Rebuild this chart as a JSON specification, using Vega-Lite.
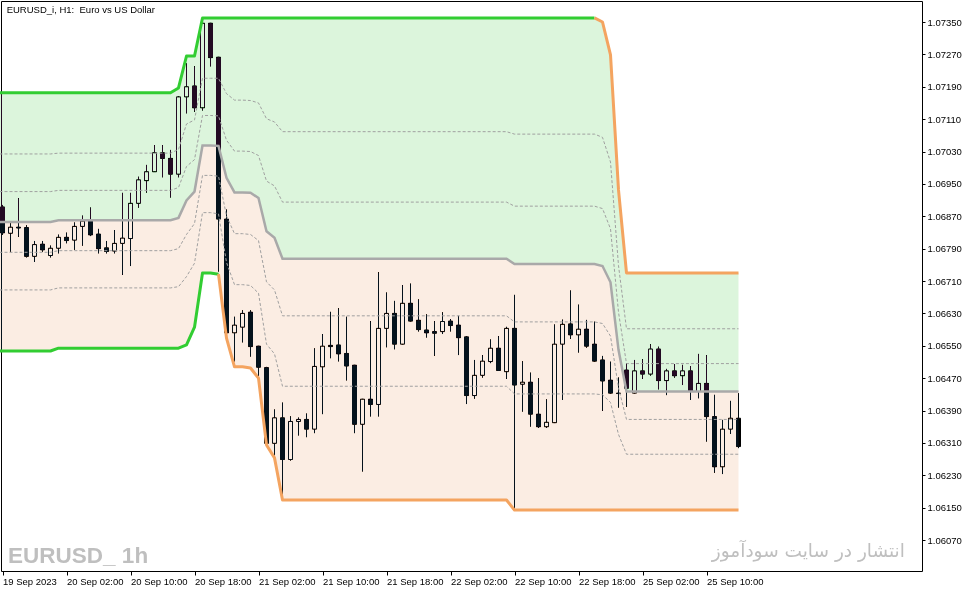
{
  "$schema": "https://vega.github.io/schema/vega-lite/v6.json",
  "width": 921,
  "height": 570,
  "autosize": {"type": "none"},
  "padding": {"left": 1, "top": 1, "right": 54, "bottom": 22},
  "background": "white",
  "config": {
    "view": {"stroke": "black", "strokeWidth": 1},
    "scale": {"continuousPadding": 0},
    "axis": {"domain": false, "grid": false, "tickColor": "black", "labelColor": "black", "labelFont": "Liberation Sans", "labelFontSize": 9.5, "labelOverlap": false, "labelFlush": false},
    "axisX": {"labelAlign": "left", "labelBaseline": "top", "tickSize": 4, "labelPadding": 1},
    "axisY": {"tickSize": 3, "labelPadding": 2, "labelBaseline": "middle"}
  },
  "datasets": {
    "candles": [
      {"i":0,"o":1.06893,"h":1.06898,"l":1.06824,"c":1.06829},
      {"i":1,"o":1.06828,"h":1.06853,"l":1.06782,"c":1.06843},
      {"i":2,"o":1.06843,"h":1.06915,"l":1.06819,"c":1.06841},
      {"i":3,"o":1.06842,"h":1.06848,"l":1.06768,"c":1.06771},
      {"i":4,"o":1.06771,"h":1.06809,"l":1.06757,"c":1.06800},
      {"i":5,"o":1.06801,"h":1.06809,"l":1.06782,"c":1.06787},
      {"i":6,"o":1.06773,"h":1.06798,"l":1.06768,"c":1.06791},
      {"i":7,"o":1.06791,"h":1.06825,"l":1.06778,"c":1.06818},
      {"i":8,"o":1.06818,"h":1.06830,"l":1.06803,"c":1.06810},
      {"i":9,"o":1.06811,"h":1.06855,"l":1.06787,"c":1.06845},
      {"i":10,"o":1.06845,"h":1.06872,"l":1.06797,"c":1.06858},
      {"i":11,"o":1.06859,"h":1.06892,"l":1.06821,"c":1.06824},
      {"i":12,"o":1.06826,"h":1.06839,"l":1.06778,"c":1.06790},
      {"i":13,"o":1.06792,"h":1.06809,"l":1.06778,"c":1.06783},
      {"i":14,"o":1.06784,"h":1.06836,"l":1.06778,"c":1.06803},
      {"i":15,"o":1.06803,"h":1.06928,"l":1.06725,"c":1.06816},
      {"i":16,"o":1.06815,"h":1.06928,"l":1.06747,"c":1.06902},
      {"i":17,"o":1.06902,"h":1.06968,"l":1.06891,"c":1.06960},
      {"i":18,"o":1.06958,"h":1.06997,"l":1.06928,"c":1.06980},
      {"i":19,"o":1.06980,"h":1.07046,"l":1.06980,"c":1.07027},
      {"i":20,"o":1.07027,"h":1.07046,"l":1.06966,"c":1.07013},
      {"i":21,"o":1.07013,"h":1.07034,"l":1.06916,"c":1.06974},
      {"i":22,"o":1.06974,"h":1.07167,"l":1.06966,"c":1.07165},
      {"i":23,"o":1.07165,"h":1.07248,"l":1.07124,"c":1.07190},
      {"i":24,"o":1.07192,"h":1.07241,"l":1.07128,"c":1.07138},
      {"i":25,"o":1.07138,"h":1.07348,"l":1.07131,"c":1.07347},
      {"i":26,"o":1.07347,"h":1.07348,"l":1.07240,"c":1.07262},
      {"i":27,"o":1.07263,"h":1.07264,"l":1.06733,"c":1.06863},
      {"i":28,"o":1.06863,"h":1.06887,"l":1.06580,"c":1.06582},
      {"i":29,"o":1.06582,"h":1.06622,"l":1.06511,"c":1.06601},
      {"i":30,"o":1.06596,"h":1.06638,"l":1.06558,"c":1.06630},
      {"i":31,"o":1.06633,"h":1.06638,"l":1.06523,"c":1.06548},
      {"i":32,"o":1.06549,"h":1.06550,"l":1.06475,"c":1.06497},
      {"i":33,"o":1.06496,"h":1.06498,"l":1.06300,"c":1.06309},
      {"i":34,"o":1.06309,"h":1.06393,"l":1.06279,"c":1.06372},
      {"i":35,"o":1.06372,"h":1.06410,"l":1.06169,"c":1.06269},
      {"i":36,"o":1.06269,"h":1.06376,"l":1.06266,"c":1.06363},
      {"i":37,"o":1.06363,"h":1.06373,"l":1.06328,"c":1.06368},
      {"i":38,"o":1.06368,"h":1.06383,"l":1.06324,"c":1.06344},
      {"i":39,"o":1.06344,"h":1.06544,"l":1.06334,"c":1.06499},
      {"i":40,"o":1.06498,"h":1.06579,"l":1.06381,"c":1.06549},
      {"i":41,"o":1.06551,"h":1.06634,"l":1.06519,"c":1.06548},
      {"i":42,"o":1.06552,"h":1.06643,"l":1.06511,"c":1.06530},
      {"i":43,"o":1.06531,"h":1.06622,"l":1.06464,"c":1.06500},
      {"i":44,"o":1.06502,"h":1.06503,"l":1.06334,"c":1.06356},
      {"i":45,"o":1.06356,"h":1.06419,"l":1.06239,"c":1.06418},
      {"i":46,"o":1.06418,"h":1.06611,"l":1.06375,"c":1.06405},
      {"i":47,"o":1.06405,"h":1.06732,"l":1.06375,"c":1.06593},
      {"i":48,"o":1.06593,"h":1.06682,"l":1.06546,"c":1.06630},
      {"i":49,"o":1.06630,"h":1.06661,"l":1.06541,"c":1.06554},
      {"i":50,"o":1.06554,"h":1.06700,"l":1.06553,"c":1.06655},
      {"i":51,"o":1.06655,"h":1.06704,"l":1.06610,"c":1.06611},
      {"i":52,"o":1.06613,"h":1.06665,"l":1.06585,"c":1.06590},
      {"i":53,"o":1.06589,"h":1.06628,"l":1.06570,"c":1.06582},
      {"i":54,"o":1.06585,"h":1.06611,"l":1.06525,"c":1.06581},
      {"i":55,"o":1.06585,"h":1.06633,"l":1.06579,"c":1.06610},
      {"i":56,"o":1.06611,"h":1.06616,"l":1.06585,"c":1.06600},
      {"i":57,"o":1.06601,"h":1.06624,"l":1.06527,"c":1.06570},
      {"i":58,"o":1.06572,"h":1.06574,"l":1.06406,"c":1.06427},
      {"i":59,"o":1.06427,"h":1.06515,"l":1.06419,"c":1.06477},
      {"i":60,"o":1.06477,"h":1.06527,"l":1.06471,"c":1.06512},
      {"i":61,"o":1.06511,"h":1.06566,"l":1.06507,"c":1.06544},
      {"i":62,"o":1.06544,"h":1.06574,"l":1.06488,"c":1.06489},
      {"i":63,"o":1.06486,"h":1.06597,"l":1.06468,"c":1.06593},
      {"i":64,"o":1.06593,"h":1.06676,"l":1.06148,"c":1.06453},
      {"i":65,"o":1.06455,"h":1.06512,"l":1.06387,"c":1.06460},
      {"i":66,"o":1.06460,"h":1.06484,"l":1.06350,"c":1.06381},
      {"i":67,"o":1.06381,"h":1.06470,"l":1.06347,"c":1.06350},
      {"i":68,"o":1.06350,"h":1.06418,"l":1.06347,"c":1.06361},
      {"i":69,"o":1.06360,"h":1.06603,"l":1.06359,"c":1.06554},
      {"i":70,"o":1.06554,"h":1.06615,"l":1.06416,"c":1.06603},
      {"i":71,"o":1.06604,"h":1.06687,"l":1.06567,"c":1.06577},
      {"i":72,"o":1.06577,"h":1.06652,"l":1.06533,"c":1.06591},
      {"i":73,"o":1.06591,"h":1.06614,"l":1.06545,"c":1.06549},
      {"i":74,"o":1.06554,"h":1.06610,"l":1.06511,"c":1.06512},
      {"i":75,"o":1.06515,"h":1.06525,"l":1.06389,"c":1.06463},
      {"i":76,"o":1.06465,"h":1.06511,"l":1.06432,"c":1.06433},
      {"i":77,"o":1.06433,"h":1.06472,"l":1.06397,"c":1.06432},
      {"i":78,"o":1.06490,"h":1.06507,"l":1.06399,"c":1.06445},
      {"i":79,"o":1.06433,"h":1.06515,"l":1.06432,"c":1.06488},
      {"i":80,"o":1.06488,"h":1.06517,"l":1.06468,"c":1.06480},
      {"i":81,"o":1.06480,"h":1.06554,"l":1.06476,"c":1.06542},
      {"i":82,"o":1.06542,"h":1.06548,"l":1.06442,"c":1.06464},
      {"i":83,"o":1.06464,"h":1.06493,"l":1.06428,"c":1.06488},
      {"i":84,"o":1.06488,"h":1.06505,"l":1.06471,"c":1.06476},
      {"i":85,"o":1.06476,"h":1.06503,"l":1.06453,"c":1.06488},
      {"i":86,"o":1.06488,"h":1.06500,"l":1.06416,"c":1.06437},
      {"i":87,"o":1.06437,"h":1.06530,"l":1.06420,"c":1.06457},
      {"i":88,"o":1.06457,"h":1.06527,"l":1.06313,"c":1.06375},
      {"i":89,"o":1.06375,"h":1.06429,"l":1.06236,"c":1.06251},
      {"i":90,"o":1.06251,"h":1.06367,"l":1.06233,"c":1.06344},
      {"i":91,"o":1.06344,"h":1.06414,"l":1.06332,"c":1.06371},
      {"i":92,"o":1.06371,"h":1.06433,"l":1.06297,"c":1.06301}
    ],
    "bands": [
      {"i":-1,"up":1.07175,"mid":1.06856,"lo":1.06537,"fa":1.07024,"fb":1.06931,"fc":1.06781,"fd":1.06688},
      {"i":6,"up":1.07175,"mid":1.06856,"lo":1.06537,"fa":1.07024,"fb":1.06931,"fc":1.06781,"fd":1.06688},
      {"i":7,"up":1.07175,"mid":1.06860,"lo":1.06544,"fa":1.07026,"fb":1.06934,"fc":1.06785,"fd":1.06693},
      {"i":21,"up":1.07175,"mid":1.06860,"lo":1.06544,"fa":1.07026,"fb":1.06934,"fc":1.06785,"fd":1.06693},
      {"i":22,"up":1.07187,"mid":1.06866,"lo":1.06544,"fa":1.07035,"fb":1.06941,"fc":1.06790,"fd":1.06696},
      {"i":23,"up":1.07266,"mid":1.06909,"lo":1.06552,"fa":1.07098,"fb":1.06993,"fc":1.06825,"fd":1.06721},
      {"i":24,"up":1.07266,"mid":1.06931,"lo":1.06596,"fa":1.07108,"fb":1.07010,"fc":1.06852,"fd":1.06754},
      {"i":25,"up":1.07360,"mid":1.07045,"lo":1.06730,"fa":1.07211,"fb":1.07119,"fc":1.06971,"fd":1.06879},
      {"i":26,"up":1.07360,"mid":1.07045,"lo":1.06730,"fa":1.07211,"fb":1.07119,"fc":1.06971,"fd":1.06879},
      {"i":27,"up":1.07360,"mid":1.07044,"lo":1.06727,"fa":1.07211,"fb":1.07118,"fc":1.06969,"fd":1.06876},
      {"i":28,"up":1.07360,"mid":1.06965,"lo":1.06569,"fa":1.07173,"fb":1.07058,"fc":1.06871,"fd":1.06756},
      {"i":29,"up":1.07360,"mid":1.06929,"lo":1.06498,"fa":1.07157,"fb":1.07031,"fc":1.06827,"fd":1.06701},
      {"i":30,"up":1.07360,"mid":1.06929,"lo":1.06498,"fa":1.07157,"fb":1.07031,"fc":1.06827,"fd":1.06701},
      {"i":31,"up":1.07360,"mid":1.06928,"lo":1.06495,"fa":1.07156,"fb":1.07030,"fc":1.06825,"fd":1.06699},
      {"i":32,"up":1.07360,"mid":1.06915,"lo":1.06470,"fa":1.07150,"fb":1.07020,"fc":1.06810,"fd":1.06680},
      {"i":33,"up":1.07360,"mid":1.06833,"lo":1.06305,"fa":1.07111,"fb":1.06957,"fc":1.06708,"fd":1.06554},
      {"i":34,"up":1.07360,"mid":1.06817,"lo":1.06273,"fa":1.07103,"fb":1.06945,"fc":1.06688,"fd":1.06530},
      {"i":35,"up":1.07360,"mid":1.06765,"lo":1.06169,"fa":1.07079,"fb":1.06905,"fc":1.06624,"fd":1.06450},
      {"i":63,"up":1.07360,"mid":1.06765,"lo":1.06169,"fa":1.07079,"fb":1.06905,"fc":1.06624,"fd":1.06450},
      {"i":64,"up":1.07360,"mid":1.06752,"lo":1.06144,"fa":1.07073,"fb":1.06895,"fc":1.06609,"fd":1.06431},
      {"i":74,"up":1.07360,"mid":1.06752,"lo":1.06144,"fa":1.07073,"fb":1.06895,"fc":1.06609,"fd":1.06431},
      {"i":75,"up":1.07350,"mid":1.06747,"lo":1.06144,"fa":1.07065,"fb":1.06889,"fc":1.06605,"fd":1.06429},
      {"i":76,"up":1.07269,"mid":1.06707,"lo":1.06144,"fa":1.07004,"fb":1.06839,"fc":1.06574,"fd":1.06410},
      {"i":77,"up":1.06935,"mid":1.06540,"lo":1.06144,"fa":1.06748,"fb":1.06633,"fc":1.06446,"fd":1.06331},
      {"i":78,"up":1.06730,"mid":1.06437,"lo":1.06144,"fa":1.06592,"fb":1.06506,"fc":1.06368,"fd":1.06282},
      {"i":92,"up":1.06730,"mid":1.06437,"lo":1.06144,"fa":1.06592,"fb":1.06506,"fc":1.06368,"fd":1.06282}
    ],
    "labels": [
      {"kind": "title", "x": 0.52, "y": 1.07372, "label": "EURUSD_i, H1:\u00a0 Euro vs US Dollar"},
      {"kind": "symbol", "x": 0.7, "y": 1.06013, "label": "EURUSD_ 1h"},
      {"kind": "site", "x": 112.8, "y": 1.06028, "label": "انتشار در سایت سودآموز"}
    ]
  },
  "layer": [
    {
      "data": {"name": "candles"},
      "mark": {"type": "rule", "color": "black", "strokeWidth": 1},
      "encoding": {
        "x": {"field": "i", "type": "quantitative", "scale": {"domain": [-0.1875, 114.9375], "nice": false, "zero": false, "padding": 0},
          "axis": {"title": null, "orient": "bottom", "values": [0, 8, 16, 24, 32, 40, 48, 56, 64, 72, 80, 88],
            "labelExpr": "['19 Sep 2023','20 Sep 02:00','20 Sep 10:00','20 Sep 18:00','21 Sep 02:00','21 Sep 10:00','21 Sep 18:00','22 Sep 02:00','22 Sep 10:00','22 Sep 18:00','25 Sep 02:00','25 Sep 10:00'][round(datum.value/8)]"}},
        "y": {"field": "h", "type": "quantitative", "scale": {"domain": [1.059935, 1.074019], "nice": false, "zero": false},
          "axis": {"title": null, "orient": "right", "format": ".5f",
            "values": [1.0607, 1.0615, 1.0623, 1.0631, 1.0639, 1.0647, 1.0655, 1.0663, 1.0671, 1.0679, 1.0687, 1.0695, 1.0703, 1.0711, 1.0719, 1.0727, 1.0735]}},
        "y2": {"field": "l"}
      }
    },
    {
      "data": {"name": "candles"},
      "transform": [{"filter": "datum.c < datum.o"}],
      "mark": {"type": "bar", "width": 4, "fill": "black", "stroke": "black", "strokeWidth": 1},
      "encoding": {
        "x": {"field": "i", "type": "quantitative", "scale": {"domain": [-0.1875, 114.9375], "nice": false, "zero": false, "padding": 0},
          "axis": {"title": null, "orient": "bottom", "values": [0, 8, 16, 24, 32, 40, 48, 56, 64, 72, 80, 88],
            "labelExpr": "['19 Sep 2023','20 Sep 02:00','20 Sep 10:00','20 Sep 18:00','21 Sep 02:00','21 Sep 10:00','21 Sep 18:00','22 Sep 02:00','22 Sep 10:00','22 Sep 18:00','25 Sep 02:00','25 Sep 10:00'][round(datum.value/8)]"}},
        "y": {"field": "o", "type": "quantitative", "scale": {"domain": [1.059935, 1.074019], "nice": false, "zero": false},
          "axis": {"title": null, "orient": "right", "format": ".5f",
            "values": [1.0607, 1.0615, 1.0623, 1.0631, 1.0639, 1.0647, 1.0655, 1.0663, 1.0671, 1.0679, 1.0687, 1.0695, 1.0703, 1.0711, 1.0719, 1.0727, 1.0735]}},
        "y2": {"field": "c"}
      }
    },
    {
      "data": {"name": "candles"},
      "transform": [{"filter": "datum.c >= datum.o"}],
      "mark": {"type": "bar", "width": 4, "fill": "white", "stroke": "black", "strokeWidth": 1},
      "encoding": {
        "x": {"field": "i", "type": "quantitative", "scale": {"domain": [-0.1875, 114.9375], "nice": false, "zero": false, "padding": 0},
          "axis": {"title": null, "orient": "bottom", "values": [0, 8, 16, 24, 32, 40, 48, 56, 64, 72, 80, 88],
            "labelExpr": "['19 Sep 2023','20 Sep 02:00','20 Sep 10:00','20 Sep 18:00','21 Sep 02:00','21 Sep 10:00','21 Sep 18:00','22 Sep 02:00','22 Sep 10:00','22 Sep 18:00','25 Sep 02:00','25 Sep 10:00'][round(datum.value/8)]"}},
        "y": {"field": "o", "type": "quantitative", "scale": {"domain": [1.059935, 1.074019], "nice": false, "zero": false},
          "axis": {"title": null, "orient": "right", "format": ".5f",
            "values": [1.0607, 1.0615, 1.0623, 1.0631, 1.0639, 1.0647, 1.0655, 1.0663, 1.0671, 1.0679, 1.0687, 1.0695, 1.0703, 1.0711, 1.0719, 1.0727, 1.0735]}},
        "y2": {"field": "c"}
      }
    },
    {
      "data": {"name": "bands"},
      "mark": {"type": "area", "fill": "#230a23", "opacity": 1, "blend": "difference"},
      "encoding": {
        "x": {"field": "i", "type": "quantitative", "scale": {"domain": [-0.1875, 114.9375], "nice": false, "zero": false, "padding": 0},
          "axis": {"title": null, "orient": "bottom", "values": [0, 8, 16, 24, 32, 40, 48, 56, 64, 72, 80, 88],
            "labelExpr": "['19 Sep 2023','20 Sep 02:00','20 Sep 10:00','20 Sep 18:00','21 Sep 02:00','21 Sep 10:00','21 Sep 18:00','22 Sep 02:00','22 Sep 10:00','22 Sep 18:00','25 Sep 02:00','25 Sep 10:00'][round(datum.value/8)]"}},
        "y": {"field": "up", "type": "quantitative", "scale": {"domain": [1.059935, 1.074019], "nice": false, "zero": false},
          "axis": {"title": null, "orient": "right", "format": ".5f",
            "values": [1.0607, 1.0615, 1.0623, 1.0631, 1.0639, 1.0647, 1.0655, 1.0663, 1.0671, 1.0679, 1.0687, 1.0695, 1.0703, 1.0711, 1.0719, 1.0727, 1.0735]}},
        "y2": {"field": "mid"}
      }
    },
    {
      "data": {"name": "bands"},
      "mark": {"type": "area", "fill": "#04121c", "opacity": 1, "blend": "difference"},
      "encoding": {
        "x": {"field": "i", "type": "quantitative", "scale": {"domain": [-0.1875, 114.9375], "nice": false, "zero": false, "padding": 0},
          "axis": {"title": null, "orient": "bottom", "values": [0, 8, 16, 24, 32, 40, 48, 56, 64, 72, 80, 88],
            "labelExpr": "['19 Sep 2023','20 Sep 02:00','20 Sep 10:00','20 Sep 18:00','21 Sep 02:00','21 Sep 10:00','21 Sep 18:00','22 Sep 02:00','22 Sep 10:00','22 Sep 18:00','25 Sep 02:00','25 Sep 10:00'][round(datum.value/8)]"}},
        "y": {"field": "mid", "type": "quantitative", "scale": {"domain": [1.059935, 1.074019], "nice": false, "zero": false},
          "axis": {"title": null, "orient": "right", "format": ".5f",
            "values": [1.0607, 1.0615, 1.0623, 1.0631, 1.0639, 1.0647, 1.0655, 1.0663, 1.0671, 1.0679, 1.0687, 1.0695, 1.0703, 1.0711, 1.0719, 1.0727, 1.0735]}},
        "y2": {"field": "lo"}
      }
    },
    {
      "data": {"name": "bands"},
      "transform": [{"fold": ["fa", "fb", "fc", "fd"], "as": ["level", "value"]}],
      "mark": {"type": "line", "color": "#a0a0a0", "strokeWidth": 1, "strokeDash": [3, 2]},
      "encoding": {
        "x": {"field": "i", "type": "quantitative", "scale": {"domain": [-0.1875, 114.9375], "nice": false, "zero": false, "padding": 0},
          "axis": {"title": null, "orient": "bottom", "values": [0, 8, 16, 24, 32, 40, 48, 56, 64, 72, 80, 88],
            "labelExpr": "['19 Sep 2023','20 Sep 02:00','20 Sep 10:00','20 Sep 18:00','21 Sep 02:00','21 Sep 10:00','21 Sep 18:00','22 Sep 02:00','22 Sep 10:00','22 Sep 18:00','25 Sep 02:00','25 Sep 10:00'][round(datum.value/8)]"}},
        "y": {"field": "value", "type": "quantitative", "scale": {"domain": [1.059935, 1.074019], "nice": false, "zero": false},
          "axis": {"title": null, "orient": "right", "format": ".5f",
            "values": [1.0607, 1.0615, 1.0623, 1.0631, 1.0639, 1.0647, 1.0655, 1.0663, 1.0671, 1.0679, 1.0687, 1.0695, 1.0703, 1.0711, 1.0719, 1.0727, 1.0735]}},
        "detail": {"field": "level", "type": "nominal"}
      }
    },
    {
      "data": {"name": "bands"},
      "mark": {"type": "line", "color": "#a9a9a9", "strokeWidth": 2.5},
      "encoding": {
        "x": {"field": "i", "type": "quantitative", "scale": {"domain": [-0.1875, 114.9375], "nice": false, "zero": false, "padding": 0},
          "axis": {"title": null, "orient": "bottom", "values": [0, 8, 16, 24, 32, 40, 48, 56, 64, 72, 80, 88],
            "labelExpr": "['19 Sep 2023','20 Sep 02:00','20 Sep 10:00','20 Sep 18:00','21 Sep 02:00','21 Sep 10:00','21 Sep 18:00','22 Sep 02:00','22 Sep 10:00','22 Sep 18:00','25 Sep 02:00','25 Sep 10:00'][round(datum.value/8)]"}},
        "y": {"field": "mid", "type": "quantitative", "scale": {"domain": [1.059935, 1.074019], "nice": false, "zero": false},
          "axis": {"title": null, "orient": "right", "format": ".5f",
            "values": [1.0607, 1.0615, 1.0623, 1.0631, 1.0639, 1.0647, 1.0655, 1.0663, 1.0671, 1.0679, 1.0687, 1.0695, 1.0703, 1.0711, 1.0719, 1.0727, 1.0735]}}
      }
    },
    {
      "data": {"name": "bands"},
      "transform": [{"filter": "datum.i <= 74"}],
      "mark": {"type": "line", "color": "#32cd32", "strokeWidth": 3, "strokeJoin": "round"},
      "encoding": {
        "x": {"field": "i", "type": "quantitative", "scale": {"domain": [-0.1875, 114.9375], "nice": false, "zero": false, "padding": 0},
          "axis": {"title": null, "orient": "bottom", "values": [0, 8, 16, 24, 32, 40, 48, 56, 64, 72, 80, 88],
            "labelExpr": "['19 Sep 2023','20 Sep 02:00','20 Sep 10:00','20 Sep 18:00','21 Sep 02:00','21 Sep 10:00','21 Sep 18:00','22 Sep 02:00','22 Sep 10:00','22 Sep 18:00','25 Sep 02:00','25 Sep 10:00'][round(datum.value/8)]"}},
        "y": {"field": "up", "type": "quantitative", "scale": {"domain": [1.059935, 1.074019], "nice": false, "zero": false},
          "axis": {"title": null, "orient": "right", "format": ".5f",
            "values": [1.0607, 1.0615, 1.0623, 1.0631, 1.0639, 1.0647, 1.0655, 1.0663, 1.0671, 1.0679, 1.0687, 1.0695, 1.0703, 1.0711, 1.0719, 1.0727, 1.0735]}}
      }
    },
    {
      "data": {"name": "bands"},
      "transform": [{"filter": "datum.i >= 74"}],
      "mark": {"type": "line", "color": "#f4a460", "strokeWidth": 3, "strokeJoin": "round"},
      "encoding": {
        "x": {"field": "i", "type": "quantitative", "scale": {"domain": [-0.1875, 114.9375], "nice": false, "zero": false, "padding": 0},
          "axis": {"title": null, "orient": "bottom", "values": [0, 8, 16, 24, 32, 40, 48, 56, 64, 72, 80, 88],
            "labelExpr": "['19 Sep 2023','20 Sep 02:00','20 Sep 10:00','20 Sep 18:00','21 Sep 02:00','21 Sep 10:00','21 Sep 18:00','22 Sep 02:00','22 Sep 10:00','22 Sep 18:00','25 Sep 02:00','25 Sep 10:00'][round(datum.value/8)]"}},
        "y": {"field": "up", "type": "quantitative", "scale": {"domain": [1.059935, 1.074019], "nice": false, "zero": false},
          "axis": {"title": null, "orient": "right", "format": ".5f",
            "values": [1.0607, 1.0615, 1.0623, 1.0631, 1.0639, 1.0647, 1.0655, 1.0663, 1.0671, 1.0679, 1.0687, 1.0695, 1.0703, 1.0711, 1.0719, 1.0727, 1.0735]}}
      }
    },
    {
      "data": {"name": "bands"},
      "transform": [{"filter": "datum.i <= 27"}],
      "mark": {"type": "line", "color": "#32cd32", "strokeWidth": 3, "strokeJoin": "round"},
      "encoding": {
        "x": {"field": "i", "type": "quantitative", "scale": {"domain": [-0.1875, 114.9375], "nice": false, "zero": false, "padding": 0},
          "axis": {"title": null, "orient": "bottom", "values": [0, 8, 16, 24, 32, 40, 48, 56, 64, 72, 80, 88],
            "labelExpr": "['19 Sep 2023','20 Sep 02:00','20 Sep 10:00','20 Sep 18:00','21 Sep 02:00','21 Sep 10:00','21 Sep 18:00','22 Sep 02:00','22 Sep 10:00','22 Sep 18:00','25 Sep 02:00','25 Sep 10:00'][round(datum.value/8)]"}},
        "y": {"field": "lo", "type": "quantitative", "scale": {"domain": [1.059935, 1.074019], "nice": false, "zero": false},
          "axis": {"title": null, "orient": "right", "format": ".5f",
            "values": [1.0607, 1.0615, 1.0623, 1.0631, 1.0639, 1.0647, 1.0655, 1.0663, 1.0671, 1.0679, 1.0687, 1.0695, 1.0703, 1.0711, 1.0719, 1.0727, 1.0735]}}
      }
    },
    {
      "data": {"name": "bands"},
      "transform": [{"filter": "datum.i >= 27"}],
      "mark": {"type": "line", "color": "#f4a460", "strokeWidth": 3, "strokeJoin": "round"},
      "encoding": {
        "x": {"field": "i", "type": "quantitative", "scale": {"domain": [-0.1875, 114.9375], "nice": false, "zero": false, "padding": 0},
          "axis": {"title": null, "orient": "bottom", "values": [0, 8, 16, 24, 32, 40, 48, 56, 64, 72, 80, 88],
            "labelExpr": "['19 Sep 2023','20 Sep 02:00','20 Sep 10:00','20 Sep 18:00','21 Sep 02:00','21 Sep 10:00','21 Sep 18:00','22 Sep 02:00','22 Sep 10:00','22 Sep 18:00','25 Sep 02:00','25 Sep 10:00'][round(datum.value/8)]"}},
        "y": {"field": "lo", "type": "quantitative", "scale": {"domain": [1.059935, 1.074019], "nice": false, "zero": false},
          "axis": {"title": null, "orient": "right", "format": ".5f",
            "values": [1.0607, 1.0615, 1.0623, 1.0631, 1.0639, 1.0647, 1.0655, 1.0663, 1.0671, 1.0679, 1.0687, 1.0695, 1.0703, 1.0711, 1.0719, 1.0727, 1.0735]}}
      }
    },
    {
      "data": {"name": "labels"},
      "transform": [{"filter": "datum.kind == 'title'"}],
      "mark": {"type": "text", "align": "left", "baseline": "alphabetic", "font": "Liberation Sans", "fontSize": 9.5, "color": "black"},
      "encoding": {
        "x": {"field": "x", "type": "quantitative", "scale": {"domain": [-0.1875, 114.9375], "nice": false, "zero": false, "padding": 0},
          "axis": {"title": null, "orient": "bottom", "values": [0, 8, 16, 24, 32, 40, 48, 56, 64, 72, 80, 88],
            "labelExpr": "['19 Sep 2023','20 Sep 02:00','20 Sep 10:00','20 Sep 18:00','21 Sep 02:00','21 Sep 10:00','21 Sep 18:00','22 Sep 02:00','22 Sep 10:00','22 Sep 18:00','25 Sep 02:00','25 Sep 10:00'][round(datum.value/8)]"}},
        "y": {"field": "y", "type": "quantitative", "scale": {"domain": [1.059935, 1.074019], "nice": false, "zero": false},
          "axis": {"title": null, "orient": "right", "format": ".5f",
            "values": [1.0607, 1.0615, 1.0623, 1.0631, 1.0639, 1.0647, 1.0655, 1.0663, 1.0671, 1.0679, 1.0687, 1.0695, 1.0703, 1.0711, 1.0719, 1.0727, 1.0735]}},
        "text": {"field": "label"}
      }
    },
    {
      "data": {"name": "labels"},
      "transform": [{"filter": "datum.kind == 'symbol'"}],
      "mark": {"type": "text", "align": "left", "baseline": "alphabetic", "font": "Liberation Sans", "fontSize": 22.5, "fontWeight": "bold", "color": "#bfbfbf"},
      "encoding": {
        "x": {"field": "x", "type": "quantitative", "scale": {"domain": [-0.1875, 114.9375], "nice": false, "zero": false, "padding": 0},
          "axis": {"title": null, "orient": "bottom", "values": [0, 8, 16, 24, 32, 40, 48, 56, 64, 72, 80, 88],
            "labelExpr": "['19 Sep 2023','20 Sep 02:00','20 Sep 10:00','20 Sep 18:00','21 Sep 02:00','21 Sep 10:00','21 Sep 18:00','22 Sep 02:00','22 Sep 10:00','22 Sep 18:00','25 Sep 02:00','25 Sep 10:00'][round(datum.value/8)]"}},
        "y": {"field": "y", "type": "quantitative", "scale": {"domain": [1.059935, 1.074019], "nice": false, "zero": false},
          "axis": {"title": null, "orient": "right", "format": ".5f",
            "values": [1.0607, 1.0615, 1.0623, 1.0631, 1.0639, 1.0647, 1.0655, 1.0663, 1.0671, 1.0679, 1.0687, 1.0695, 1.0703, 1.0711, 1.0719, 1.0727, 1.0735]}},
        "text": {"field": "label"}
      }
    },
    {
      "data": {"name": "labels"},
      "transform": [{"filter": "datum.kind == 'site'"}],
      "mark": {"type": "text", "align": "right", "baseline": "alphabetic", "font": "DejaVu Sans", "fontSize": 18.5, "color": "#bfbfbf"},
      "encoding": {
        "x": {"field": "x", "type": "quantitative", "scale": {"domain": [-0.1875, 114.9375], "nice": false, "zero": false, "padding": 0},
          "axis": {"title": null, "orient": "bottom", "values": [0, 8, 16, 24, 32, 40, 48, 56, 64, 72, 80, 88],
            "labelExpr": "['19 Sep 2023','20 Sep 02:00','20 Sep 10:00','20 Sep 18:00','21 Sep 02:00','21 Sep 10:00','21 Sep 18:00','22 Sep 02:00','22 Sep 10:00','22 Sep 18:00','25 Sep 02:00','25 Sep 10:00'][round(datum.value/8)]"}},
        "y": {"field": "y", "type": "quantitative", "scale": {"domain": [1.059935, 1.074019], "nice": false, "zero": false},
          "axis": {"title": null, "orient": "right", "format": ".5f",
            "values": [1.0607, 1.0615, 1.0623, 1.0631, 1.0639, 1.0647, 1.0655, 1.0663, 1.0671, 1.0679, 1.0687, 1.0695, 1.0703, 1.0711, 1.0719, 1.0727, 1.0735]}},
        "text": {"field": "label"}
      }
    }
  ]
}
